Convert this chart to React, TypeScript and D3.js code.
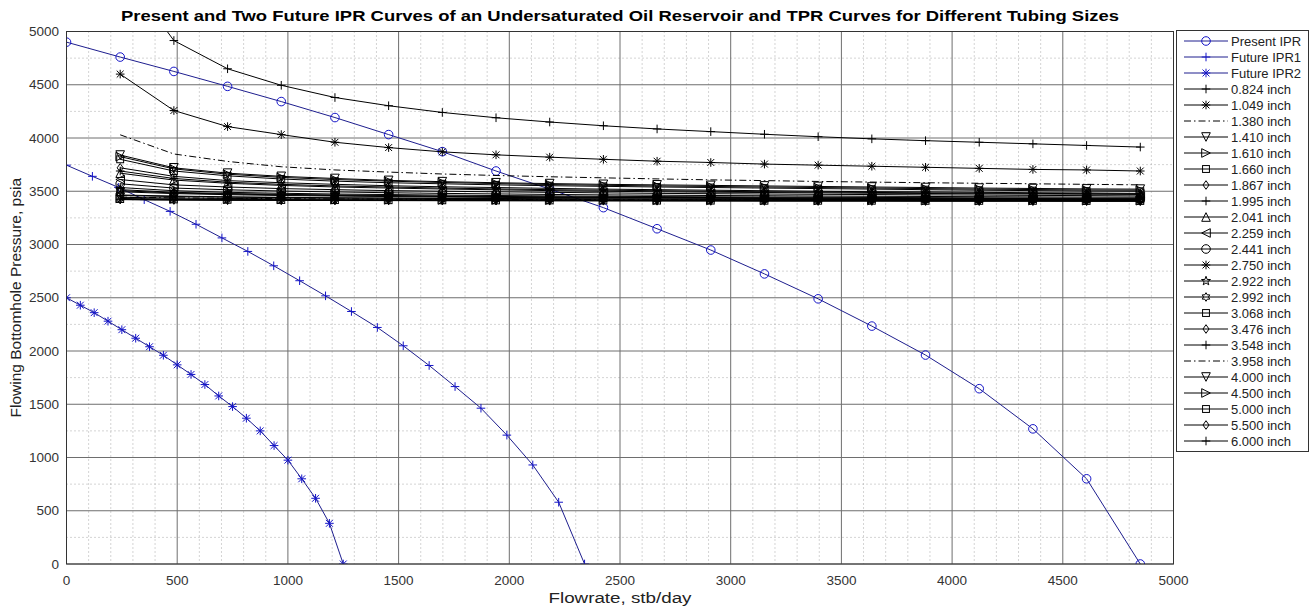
import React from "react";
import * as d3 from "d3";

const X_TICKS = [0, 500, 1000, 1500, 2000, 2500, 3000, 3500, 4000, 4500, 5000];
const Y_TICKS = [0, 500, 1000, 1500, 2000, 2500, 3000, 3500, 4000, 4500, 5000];
const X_MINOR = [100,200,300,400,600,700,800,900,1100,1200,1300,1400,1600,1700,1800,1900,2100,2200,2300,2400,2600,2700,2800,2900,3100,3200,3300,3400,3600,3700,3800,3900,4100,4200,4300,4400,4600,4700,4800,4900];
const Y_MINOR = [250, 750, 1250, 1750, 2250, 2750, 3250, 3750, 4250, 4750];

const presentQ = [0, 242.5, 485, 727.5, 970, 1212.5, 1455, 1697.5, 1940, 2182.5, 2425, 2667.5, 2910, 3152.5, 3395, 3637.5, 3880, 4122.5, 4365, 4607.5, 4850];
const presentP = [4900, 4760, 4625, 4485, 4342, 4192, 4032, 3872, 3690, 3520, 3346, 3148, 2948, 2724, 2490, 2234, 1962, 1646, 1269, 800, 0];

const future1Q = [0, 117, 234, 351, 468, 585, 702, 819, 936, 1053, 1170, 1287, 1404, 1521, 1638, 1755, 1872, 1989, 2106, 2223, 2340];
const future1P = [3745, 3640, 3537, 3421, 3311, 3190, 3062, 2935, 2800, 2660, 2518, 2371, 2221, 2049, 1864, 1666, 1463, 1210, 930, 580, 0];

const future2Q = [0, 62.5, 125, 187.5, 250, 312.5, 375, 437.5, 500, 562.5, 625, 687.5, 750, 812.5, 875, 937.5, 1000, 1062.5, 1125, 1187.5, 1250];
const future2P = [2500, 2430, 2360, 2280, 2200, 2120, 2040, 1960, 1870, 1780, 1685, 1578, 1478, 1369, 1250, 1112, 975, 800, 617, 382, 0];

const tprQ = [242.5, 485, 727.5, 970, 1212.5, 1455, 1697.5, 1940, 2182.5, 2425, 2667.5, 2910, 3152.5, 3395, 3637.5, 3880, 4122.5, 4365, 4607.5, 4850];

const tubingLabels = ["0.824", "1.049", "1.380", "1.410", "1.610", "1.660", "1.867", "1.995", "2.041", "2.259", "2.441", "2.750", "2.922", "2.992", "3.068", "3.476", "3.548", "3.958", "4.000", "4.500", "5.000", "5.500", "6.000"];
const tubingMarkers = ["+", "*", "none", "v", ">", "s", "d", "+", "^", "<", "o", "*", "p", "h", "s", "d", "+", "none", "v", ">", "s", "d", "+"];
const tubingDashed = [false, false, true, false, false, false, false, false, false, false, false, false, false, false, false, false, false, true, false, false, false, false, false];

const tpr0824 = [5600, 4915, 4650, 4495, 4380, 4303, 4240, 4190, 4150, 4115, 4085, 4060, 4035, 4012, 3992, 3975, 3960, 3945, 3930, 3915];
const tpr1049 = [4600, 4258, 4107, 4032, 3960, 3910, 3870, 3842, 3820, 3800, 3782, 3770, 3755, 3745, 3735, 3725, 3715, 3705, 3700, 3690];
const tpr1380 = [4030, 3850, 3780, 3730, 3700, 3680, 3662, 3648, 3636, 3626, 3616, 3607, 3600, 3592, 3586, 3580, 3575, 3570, 3565, 3560];
const tpr1410 = [3840, 3720, 3670, 3640, 3620, 3602, 3590, 3580, 3572, 3565, 3560, 3555, 3550, 3545, 3540, 3535, 3530, 3526, 3522, 3520];
const tpr1610 = [3825, 3710, 3660, 3630, 3610, 3595, 3582, 3572, 3563, 3556, 3550, 3545, 3540, 3535, 3530, 3525, 3520, 3516, 3512, 3510];
const tpr1660 = [3800, 3690, 3645, 3615, 3595, 3580, 3570, 3560, 3552, 3546, 3540, 3535, 3530, 3525, 3520, 3515, 3510, 3506, 3502, 3500];
const tpr1867 = [3720, 3640, 3600, 3580, 3565, 3552, 3542, 3535, 3527, 3520, 3515, 3510, 3505, 3500, 3496, 3494, 3490, 3486, 3484, 3480];
const tpr1995 = [3690, 3620, 3585, 3565, 3550, 3540, 3530, 3522, 3515, 3510, 3505, 3500, 3495, 3492, 3489, 3485, 3482, 3480, 3477, 3475];
const tpr2041 = [3670, 3605, 3575, 3555, 3540, 3530, 3521, 3514, 3506, 3500, 3495, 3491, 3488, 3485, 3481, 3479, 3476, 3474, 3472, 3470];
const tpr2259 = [3610, 3560, 3540, 3525, 3515, 3506, 3500, 3495, 3490, 3485, 3480, 3477, 3474, 3471, 3469, 3466, 3464, 3461, 3459, 3456];
const tpr2441 = [3570, 3530, 3514, 3502, 3494, 3486, 3480, 3475, 3470, 3466, 3463, 3460, 3458, 3455, 3453, 3451, 3449, 3447, 3445, 3444];
const tpr2750 = [3535, 3505, 3490, 3481, 3474, 3469, 3464, 3460, 3456, 3453, 3450, 3448, 3446, 3444, 3442, 3440, 3438, 3437, 3435, 3434];
const tpr2922 = [3515, 3490, 3479, 3471, 3465, 3460, 3455, 3451, 3448, 3446, 3443, 3441, 3439, 3438, 3436, 3434, 3433, 3431, 3430, 3429];
const tpr2992 = [3505, 3484, 3474, 3466, 3460, 3455, 3451, 3447, 3444, 3442, 3440, 3438, 3436, 3434, 3433, 3431, 3430, 3429, 3427, 3426];
const tpr3068 = [3495, 3478, 3468, 3460, 3455, 3450, 3446, 3442, 3440, 3438, 3436, 3434, 3432, 3430, 3429, 3428, 3427, 3426, 3425, 3424];
const tpr3476 = [3465, 3455, 3448, 3443, 3439, 3436, 3434, 3432, 3430, 3429, 3427, 3426, 3425, 3424, 3423, 3422, 3421, 3421, 3420, 3419];
const tpr3548 = [3460, 3450, 3444, 3440, 3436, 3434, 3432, 3430, 3428, 3427, 3426, 3425, 3424, 3423, 3422, 3421, 3420, 3420, 3419, 3418];
const tpr3958 = [3445, 3438, 3434, 3430, 3428, 3426, 3424, 3423, 3421, 3420, 3419, 3419, 3418, 3417, 3417, 3416, 3416, 3415, 3415, 3414];
const tpr4000 = [3443, 3436, 3432, 3429, 3427, 3425, 3423, 3422, 3421, 3420, 3419, 3418, 3417, 3417, 3416, 3416, 3415, 3415, 3414, 3414];
const tpr4500 = [3432, 3427, 3424, 3422, 3420, 3419, 3418, 3417, 3416, 3415, 3415, 3414, 3414, 3413, 3413, 3412, 3412, 3412, 3411, 3411];
const tpr5000 = [3427, 3423, 3420, 3418, 3417, 3416, 3415, 3414, 3414, 3413, 3412, 3412, 3411, 3411, 3411, 3410, 3410, 3410, 3409, 3409];
const tpr5500 = [3423, 3419, 3417, 3416, 3414, 3414, 3413, 3412, 3412, 3411, 3411, 3410, 3410, 3409, 3409, 3409, 3408, 3408, 3408, 3407];
const tpr6000 = [3421, 3417, 3415, 3414, 3413, 3412, 3411, 3411, 3410, 3410, 3409, 3409, 3408, 3408, 3408, 3407, 3407, 3407, 3406, 3406];

const tubingP = [tpr0824, tpr1049, tpr1380, tpr1410, tpr1610, tpr1660, tpr1867, tpr1995, tpr2041, tpr2259, tpr2441, tpr2750, tpr2922, tpr2992, tpr3068, tpr3476, tpr3548, tpr3958, tpr4000, tpr4500, tpr5000, tpr5500, tpr6000];

const W = 1314;
const H = 609;
const L = 66.5, R = 1173.5, T = 31.5, B = 564;
const FONT = "'Liberation Sans', Arial, Helvetica, sans-serif";
const IPR_LINE = "#1e1e8e";
const IPR_MARK = "#1414c8";

function Marker({ type, x, y, color }: { type: string; x: number; y: number; color: string }) {
  const r = 4.3;
  const common = { fill: "none", stroke: color, strokeWidth: 1 };
  switch (type) {
    case "o":
      return <circle cx={x} cy={y} r={r} {...common} />;
    case "+":
      return <path d={`M${x - r},${y}H${x + r}M${x},${y - r}V${y + r}`} {...common} />;
    case "*": {
      const a = r * 0.8;
      return <path d={`M${x - r},${y}H${x + r}M${x},${y - r}V${y + r}M${x - a},${y - a}L${x + a},${y + a}M${x - a},${y + a}L${x + a},${y - a}`} {...common} />;
    }
    case "v":
      return <path d={`M${x - r},${y - r}L${x + r},${y - r}L${x},${y + r}Z`} {...common} />;
    case "^":
      return <path d={`M${x - r},${y + r}L${x + r},${y + r}L${x},${y - r}Z`} {...common} />;
    case ">":
      return <path d={`M${x - r},${y - r}L${x + r},${y}L${x - r},${y + r}Z`} {...common} />;
    case "<":
      return <path d={`M${x + r},${y - r}L${x - r},${y}L${x + r},${y + r}Z`} {...common} />;
    case "s":
      return <rect x={x - r * 0.8} y={y - r * 0.8} width={r * 1.6} height={r * 1.6} {...common} />;
    case "d":
      return <path d={`M${x},${y - r}L${x + r * 0.7},${y}L${x},${y + r}L${x - r * 0.7},${y}Z`} {...common} />;
    case "p": {
      const pts: string[] = [];
      for (let i = 0; i < 10; i++) {
        const ang = -Math.PI / 2 + (i * Math.PI) / 5;
        const rr = i % 2 === 0 ? r * 1.1 : r * 0.45;
        pts.push(`${x + rr * Math.cos(ang)},${y + rr * Math.sin(ang)}`);
      }
      return <polygon points={pts.join(" ")} {...common} />;
    }
    case "h": {
      const pts: string[] = [];
      for (let i = 0; i < 12; i++) {
        const ang = -Math.PI / 2 + (i * Math.PI) / 6;
        const rr = i % 2 === 0 ? r : r * 0.58;
        pts.push(`${x + rr * Math.cos(ang)},${y + rr * Math.sin(ang)}`);
      }
      return <polygon points={pts.join(" ")} {...common} />;
    }
    default:
      return null;
  }
}

export default function App() {
  const x = d3.scaleLinear().domain([0, 5000]).range([L, R]);
  const y = d3.scaleLinear().domain([0, 5000]).range([B, T]);
  const line = d3.line<[number, number]>().x((d) => x(d[0])).y((d) => y(d[1]));

  const iprSeries = [
    { name: "Present IPR", q: presentQ, p: presentP, marker: "o" },
    { name: "Future IPR1", q: future1Q, p: future1P, marker: "+" },
    { name: "Future IPR2", q: future2Q, p: future2P, marker: "*" },
  ];

  const legendItems = [
    ...iprSeries.map((s) => ({ label: s.name, marker: s.marker, color: IPR_LINE, mcolor: IPR_MARK, dashed: false })),
    ...tubingLabels.map((t, i) => ({ label: `${t} inch`, marker: tubingMarkers[i], color: "#000", mcolor: "#000", dashed: tubingDashed[i] })),
  ];

  const legX = 1176.5, legY = 30.5, legW = 132, legH = 421;
  const rowH = 16;

  return (
    <svg width={W} height={H} style={{ position: "absolute", left: 0, top: 0, background: "#fff" }} fontFamily={FONT}>
      <defs>
        <clipPath id="plotclip">
          <rect x={L} y={T} width={R - L} height={B - T} />
        </clipPath>
      </defs>
      <rect x={0} y={0} width={W} height={H} fill="#fff" />
      {X_MINOR.map((v) => (
        <line key={"xm" + v} x1={x(v)} x2={x(v)} y1={T} y2={B} stroke="#a8a8a8" strokeWidth={1} strokeDasharray="1,3" />
      ))}
      {Y_MINOR.map((v) => (
        <line key={"ym" + v} x1={L} x2={R} y1={y(v)} y2={y(v)} stroke="#a8a8a8" strokeWidth={1} strokeDasharray="1,3" />
      ))}
      {X_TICKS.map((v) => (
        <line key={"xg" + v} x1={x(v)} x2={x(v)} y1={T} y2={B} stroke="#6e6e6e" strokeWidth={1} />
      ))}
      {Y_TICKS.map((v) => (
        <line key={"yg" + v} x1={L} x2={R} y1={y(v)} y2={y(v)} stroke="#6e6e6e" strokeWidth={1} />
      ))}

      <g clipPath="url(#plotclip)">
        {iprSeries.map((s) => {
          const pts = s.q.map((q, i) => [q, s.p[i]] as [number, number]);
          return (
            <g key={s.name}>
              <path d={line(pts) || ""} fill="none" stroke={IPR_LINE} strokeWidth={1} />
              {pts.map((d, i) => (
                <Marker key={i} type={s.marker} x={x(d[0])} y={y(d[1])} color={IPR_MARK} />
              ))}
            </g>
          );
        })}
        {tubingP.map((arr, k) => {
          const pts = tprQ.map((q, i) => [q, arr[i]] as [number, number]);
          return (
            <g key={"t" + k}>
              <path d={line(pts) || ""} fill="none" stroke="#000" strokeWidth={1} strokeDasharray={tubingDashed[k] ? "7,3,1.5,3" : undefined} />
              {tubingMarkers[k] !== "none" &&
                pts.map((d, i) => <Marker key={i} type={tubingMarkers[k]} x={x(d[0])} y={y(d[1])} color="#000" />)}
            </g>
          );
        })}
      </g>

      <rect x={L} y={T} width={R - L} height={B - T} fill="none" stroke="#333" strokeWidth={1} />

      {X_TICKS.map((v) => (
        <text key={"xt" + v} x={x(v)} y={585} textAnchor="middle" fontSize={13.5} fill="#333">
          {v}
        </text>
      ))}
      {Y_TICKS.map((v) => (
        <text key={"yt" + v} x={59} y={y(v) + 4.5} textAnchor="end" fontSize={13.5} fill="#333">
          {v}
        </text>
      ))}

      <text x={(L + R) / 2} y={603} textAnchor="middle" fontSize={14} fill="#222" textLength={143} lengthAdjust="spacingAndGlyphs">
        Flowrate, stb/day
      </text>
      <text transform={`translate(21,${(T + B) / 2}) rotate(-90)`} textAnchor="middle" fontSize={15.5} fill="#222">
        Flowing Bottomhole Pressure, psia
      </text>

      <text x={(L + R) / 2} y={21} textAnchor="middle" fontSize={15} fontWeight="bold" fill="#000" textLength={998} lengthAdjust="spacingAndGlyphs">
        Present and Two Future IPR Curves of an Undersaturated Oil Reservoir and TPR Curves for Different Tubing Sizes
      </text>

      <rect x={legX} y={legY} width={legW} height={legH} fill="#fff" stroke="#333" strokeWidth={1} />
      {legendItems.map((it, i) => {
        const cy = 41 + i * rowH;
        return (
          <g key={"lg" + i}>
            <line x1={1184} x2={1228} y1={cy} y2={cy} stroke={it.color} strokeWidth={1} strokeDasharray={it.dashed ? "7,3,1.5,3" : undefined} />
            {it.marker !== "none" && <Marker type={it.marker} x={1206} y={cy} color={it.mcolor} />}
            <text x={1231} y={cy + 4.5} fontSize={13} fill="#222">
              {it.label}
            </text>
          </g>
        );
      })}
    </svg>
  );
}
